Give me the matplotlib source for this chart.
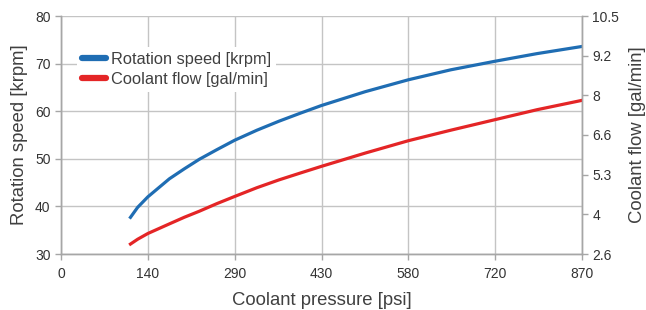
import numpy as np
import matplotlib
matplotlib.use("Agg")
import matplotlib.pyplot as plt
from matplotlib.lines import Line2D

# coolant pressure, in axis units (tick every 145 psi, labelled rounded)
pressure = [116, 128, 145, 181, 206, 231, 260, 290, 327, 364, 400, 435, 508, 580, 651, 725, 795, 870]
# rotation speed [krpm] (left axis)
speed = [37.7, 39.8, 42.0, 45.8, 47.9, 49.9, 51.9, 53.9, 56.0, 57.9, 59.6, 61.2, 64.1,
         66.6, 68.7, 70.5, 72.1, 73.6]
# coolant flow [gal/min] (right axis)
flow = [2.93, 3.09, 3.28, 3.60, 3.82, 4.02, 4.27, 4.51, 4.80, 5.06, 5.29, 5.51, 5.95,
        6.36, 6.71, 7.06, 7.39, 7.70]

x_ticklabels = ["0", "140", "290", "430", "580", "720", "870"]
left_ticks = [30, 40, 50, 60, 70, 80]
right_ticklabels = ["2.6", "4", "5.3", "6.6", "8", "9.2", "10.5"]

BLUE = "#1f6db3"
RED = "#e42526"
TEXT = "#404040"
GRID = "#c4c4c4"
SPINE = "#a6a6a6"

plt.rcParams["font.family"] = ["Liberation Sans", "DejaVu Sans"]

fig = plt.figure(figsize=(6.46, 3.10), dpi=100)
ax = fig.add_axes([61 / 646, 56 / 310, 521 / 646, 238 / 310])
ax2 = ax.twinx()

ax.plot(pressure, speed, color=BLUE, lw=2.3, solid_joinstyle="round")
ax2.plot(pressure, flow, color=RED, lw=2.3, solid_joinstyle="round")

ax.set_xlim(0, 870)
ax.set_ylim(30, 80)
ax2.set_ylim(2.6, 10.5)

ax.set_xticks(np.linspace(0, 870, 7))
ax.set_xticklabels(x_ticklabels)
ax.set_yticks(left_ticks)
ax2.set_yticks(np.linspace(2.6, 10.5, 7))
ax2.set_yticklabels(right_ticklabels)

ax.grid(True, color=GRID, lw=1)
ax.set_axisbelow(True)

for a in (ax, ax2):
    a.spines["top"].set_visible(False)
    for s in ("left", "right", "bottom"):
        a.spines[s].set_color(SPINE)
        a.spines[s].set_linewidth(1)
    a.tick_params(colors=SPINE, labelcolor="#333333", labelsize=10, length=4, width=1)
ax.tick_params(axis="x", pad=5)

ax.set_xlabel("Coolant pressure [psi]", fontsize=13.3, color=TEXT, labelpad=8)
ax.set_ylabel("Rotation speed [krpm]", fontsize=13.3, color=TEXT, labelpad=5)
ax2.set_ylabel("Coolant flow [gal/min]", fontsize=13.3, color=TEXT, labelpad=7)

handles = [
    Line2D([], [], color=BLUE, lw=4.5, solid_capstyle="round"),
    Line2D([], [], color=RED, lw=4.5, solid_capstyle="round"),
]
leg = ax2.legend(handles, ["Rotation speed [krpm]", "Coolant flow [gal/min]"],
                 loc="upper left", bbox_to_anchor=(0.015, 0.905), frameon=True,
                 fancybox=False, edgecolor="none", facecolor="white", framealpha=1,
                 fontsize=11.8, handlelength=1.45, handletextpad=0.3,
                 labelspacing=0.3, borderpad=0.3)
for t in leg.get_texts():
    t.set_color(TEXT)

fig.savefig("out.png", dpi=100)
